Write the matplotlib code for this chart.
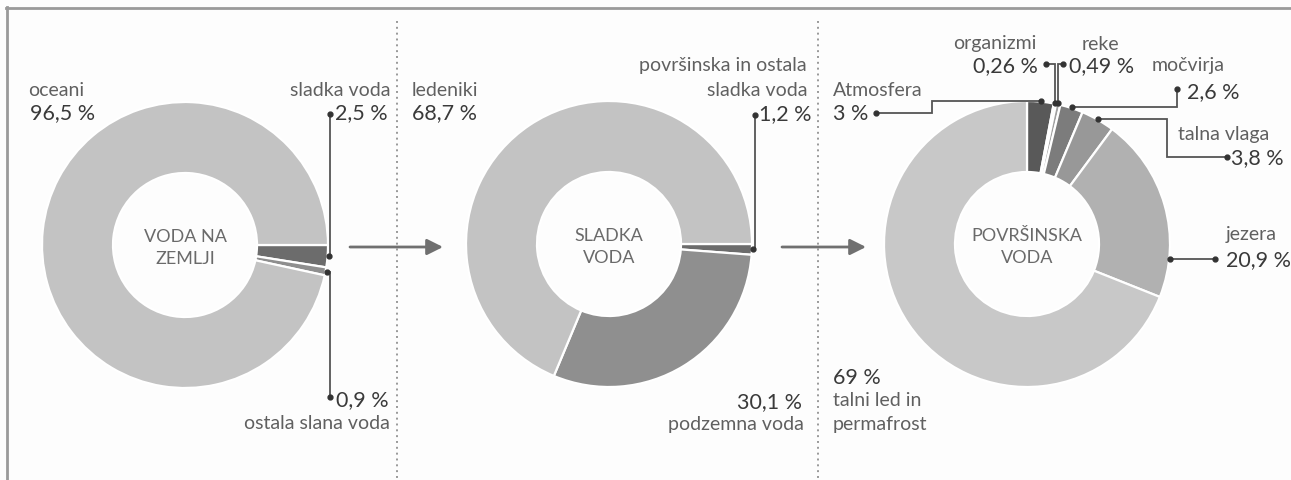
import math
import matplotlib.pyplot as plt

plt.rcParams['font.family'] = ['Lato', 'DejaVu Sans']

# data
earth_labels = ['sladka voda', 'ostala slana voda', 'oceani']
earth_values = [2.5, 0.9, 96.5]
fresh_labels = ['površinska in ostala sladka voda', 'podzemna voda', 'ledeniki']
fresh_values = [1.2, 30.1, 68.7]
surf_labels = ['Atmosfera', 'organizmi', 'reke', 'močvirja', 'talna vlaga',
               'jezera', 'talni led in permafrost']
surf_values = [3, 0.26, 0.49, 2.6, 3.8, 20.9, 69]

W, H = 1291, 481
R, RING = 143, 71
LBL = '#606060'
NUM = '#3a3a3a'
LINE = '#555555'

fig = plt.figure(figsize=(W / 100, H / 100), dpi=100)
fig.patch.set_facecolor('#fdfdfd')
ax = fig.add_axes([0, 0, 1, 1])


def donut(center, values, colors, start):
    ax.pie(values, colors=colors, center=center, radius=R, startangle=start,
           counterclock=True, frame=False,
           wedgeprops=dict(width=RING, edgecolor='white', linewidth=1.6))


def anchor(center, values, i, start, frac=0.5, r=R + 1):
    tot = sum(values)
    f = (sum(values[:i]) + frac * values[i]) / tot
    a = math.radians(start + 360 * f)
    return center[0] + r * math.cos(a), center[1] + r * math.sin(a)


def leader(pts):
    xs = [p[0] for p in pts]
    ys = [p[1] for p in pts]
    ax.plot(xs, ys, color=LINE, lw=1.3, solid_joinstyle='miter')
    ax.plot([xs[0], xs[-1]], [ys[0], ys[-1]], 'o', color='#333333', ms=3.5)


def txt(x, y, s, ha='left'):
    ax.text(x, y, s, ha=ha, va='center', fontsize=14, color=LBL)


def num(x, y, v, ha='left', fmt='{:.1f}'):
    s = fmt.format(v).replace('.', ',') + ' %'
    ax.text(x, y, s, ha=ha, va='center', fontsize=15.5, color=NUM)


c1, c2, c3 = (185, 246), (609, 245), (1027, 245)

donut(c1, earth_values, ['#6c6c6c', '#8e8e8e', '#c3c3c3'], 0)
donut(c2, fresh_values, ['#6c6c6c', '#8f8f8f', '#c3c3c3'], 0)
donut(c3, surf_values, ['#595959', '#d2d2d2', '#a0a0a0', '#7c7c7c',
                        '#989898', '#b1b1b1', '#c8c8c8'], -90)

# center titles
for c, s in [(c1, 'VODA NA\nZEMLJI'), (c2, 'SLADKA\nVODA'), (c3, 'POVRŠINSKA\nVODA')]:
    ax.text(c[0], c[1] + 2, s, ha='center', va='center', fontsize=13,
            color='#6a6a6a', linespacing=1.5)

# frame and separators
ax.plot([6, W], [8.5, 8.5], color='#9a9a9a', lw=2)
ax.plot([6.5, 6.5], [8, H], color='#9a9a9a', lw=2)
for x in (397, 818):
    ax.plot([x, x], [22, H], color='#999999', lw=1.4, ls=(0, (1, 2)))

# arrows
for x0, x1 in [(350, 443), (782, 866)]:
    ax.annotate('', xy=(x1, 248), xytext=(x0, 248),
                arrowprops=dict(arrowstyle='-|>', color='#707070', lw=2,
                                mutation_scale=24, shrinkA=0, shrinkB=0))

# donut 1 labels
txt(28, 91, earth_labels[2])
num(30, 113, earth_values[2])
txt(390, 91, earth_labels[0], ha='right')
num(335, 113, earth_values[0])
a = anchor(c1, earth_values, 0, 0)
leader([(330, 115), (330, a[1]), a])
num(336, 400, earth_values[1])
txt(390, 424, earth_labels[1], ha='right')
a = anchor(c1, earth_values, 1, 0)
leader([(330, 398), (330, a[1]), a])

# donut 2 labels
txt(412, 91, fresh_labels[2])
num(412, 113, fresh_values[2])
txt(807, 66, 'površinska in ostala', ha='right')
txt(807, 90, 'sladka voda', ha='right')
num(759, 114, fresh_values[0])
a = anchor(c2, fresh_values, 0, 0)
leader([(755, 116), (755, a[1]), a])
num(802, 402, fresh_values[1], ha='right')
txt(804, 425, fresh_labels[1], ha='right')

# donut 3 labels
txt(833, 90, surf_labels[0])
num(833, 114, surf_values[0], fmt='{:g}')
a = anchor(c3, surf_values, 0, -90)
leader([(876, 114), (932, 114), (932, a[1]), a])

txt(995, 44, surf_labels[1], ha='center')
num(1038, 66, surf_values[1], ha='right', fmt='{:g}')
a = anchor(c3, surf_values, 1, -90)
leader([(1046, 65), (a[0], 65), a])

txt(1100, 44, surf_labels[2], ha='center')
num(1069, 66, surf_values[2], fmt='{:g}')
a = anchor(c3, surf_values, 2, -90)
leader([(1063, 65), (a[0], 65), a])

txt(1152, 66, surf_labels[3])
num(1187, 92, surf_values[3], fmt='{:g}')
a = anchor(c3, surf_values, 3, -90)
leader([(1177, 90), (1177, a[1]), a])

txt(1178, 135, surf_labels[4])
num(1231, 158, surf_values[4], fmt='{:g}')
a = anchor(c3, surf_values, 4, -90)
leader([(1227, 158), (1167, 158), (1167, a[1]), a])

txt(1226, 235, surf_labels[5])
num(1226, 260, surf_values[5], fmt='{:g}')
a = anchor(c3, surf_values, 5, -90, frac=0.79)
leader([a, (1215, a[1])])

num(833, 378, surf_values[6], fmt='{:g}')
txt(833, 401, 'talni led in')
txt(833, 425, 'permafrost')

ax.set_xlim(0, W)
ax.set_ylim(H, 0)
ax.set_aspect('equal')
ax.axis('off')

fig.savefig('out.png', dpi=100, facecolor=fig.get_facecolor())
